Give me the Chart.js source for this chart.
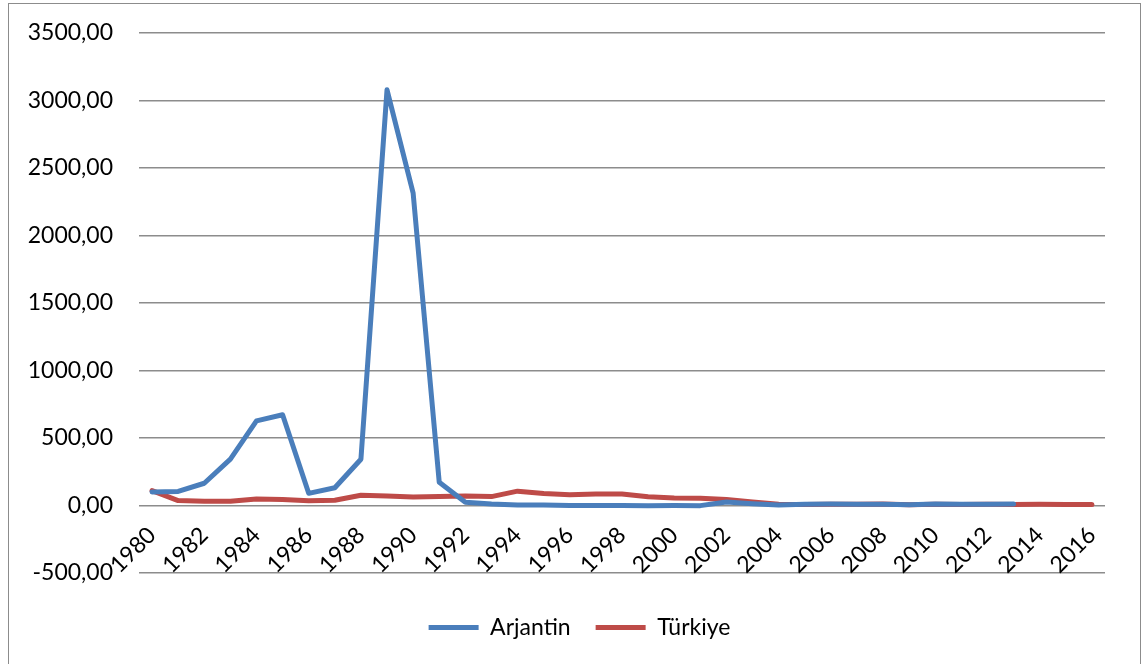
<!DOCTYPE html>
<html>
<head>
<meta charset="utf-8">
<script src="https://cdn.jsdelivr.net/npm/chart.js@4/dist/chart.umd.min.js"></script>
<style>
  html, body { margin: 0; padding: 0; background: #fff; overflow: hidden; }
  #wrap { position: absolute; left: 0; top: 0; width: 1143px; height: 664px; }
  #frame { position: absolute; left: 8px; top: 3px; width: 1131px; height: 700px; border: 1.5px solid #8c8c8c; }
</style>
</head>
<body>
<div id="frame"></div>
<div id="wrap"><canvas id="chart"></canvas></div>
<script>
const years = [];
for (let y = 1980; y <= 2016; y++) years.push(String(y));

// Arjantin stops at 2013
const arjantin = [100.8, 104.5, 164.8, 343.8, 626.7, 672.2, 90.1, 131.3, 343.0, 3079.5,
    2314.0, 171.7, 24.9, 10.6, 4.2, 3.4, 0.2, 0.5, 0.9, -1.2,
    -0.9, -1.1, 25.9, 13.4, 4.4, 9.6, 10.9, 8.8, 8.6, 6.3,
    10.5, 9.8, 10.0, 10.6, null, null, null];

const turkiye = [110.2, 36.6, 30.8, 31.4, 48.4, 45.0, 34.6, 38.9, 75.4, 69.6,
    63.6, 66.0, 70.1, 66.1, 106.3, 88.1, 80.3, 85.7, 84.6, 64.9,
    54.9, 54.4, 45.0, 25.3, 8.6, 8.2, 9.6, 8.8, 10.4, 6.3,
    8.6, 6.5, 8.9, 7.5, 8.9, 7.7, 7.8];

const yMin = -500, yMax = 3500, yStep = 500;

Chart.defaults.font.family = "Lato, 'Noto Sans', sans-serif";
Chart.defaults.font.size = 23;
Chart.defaults.color = '#000';

function fmt(v) {
    return v.toFixed(2).replace('.', ',');
}

// legend sits a bit right of the full width centre, like the original
const legendShift = {
    id: 'legendShift',
    afterLayout(chart) {
        chart.legend.left += 27;
        chart.legend.right += 27;
    }
};

new Chart(document.getElementById('chart'), {
    type: 'line',
    data: {
        labels: years,
        datasets: [
            {
                label: 'Arjantin',
                data: arjantin,
                borderColor: '#4a7ebb',
                backgroundColor: '#4a7ebb',
                borderWidth: 5,
                borderJoinStyle: 'round',
                borderCapStyle: 'round',
                pointRadius: 0,
                tension: 0
            },
            {
                label: 'Türkiye',
                data: turkiye,
                borderColor: '#be4b48',
                backgroundColor: '#be4b48',
                borderWidth: 5,
                borderJoinStyle: 'round',
                borderCapStyle: 'round',
                pointRadius: 0,
                tension: 0
            }
        ]
    },
    options: {
        responsive: true,
        maintainAspectRatio: false,
        animation: false,
        layout: { padding: { left: 0, right: 38, top: 33, bottom: 15 } },
        plugins: {
            tooltip: { enabled: false },
            legend: {
                position: 'bottom',
                title: { display: true, text: '', font: { size: 10 }, padding: { top: 6, bottom: 0 } },
                labels: {
                    usePointStyle: true,
                    pointStyle: 'line',
                    pointStyleWidth: 50,
                    padding: 25,
                    color: '#000'
                }
            }
        },
        scales: {
            x: {
                position: { y: 0 },
                offset: true,
                grid: { display: false },
                border: { display: false },
                ticks: {
                    autoSkip: false,
                    minRotation: 45,
                    maxRotation: 45,
                    padding: 8,
                    callback: function (val, i) { return i % 2 === 0 ? years[i] : ''; }
                }
            },
            y: {
                min: yMin,
                max: yMax,
                afterFit: function (scale) {
                    scale.width = 139;
                    scale.paddingTop = 0;
                    scale.paddingBottom = 0;
                },
                grid: { color: '#8c8c8c', lineWidth: 1.5, drawTicks: false },
                border: { display: false },
                ticks: {
                    stepSize: yStep,
                    padding: 26,
                    callback: function (v) { return fmt(v); }
                }
            }
        }
    },
    plugins: [legendShift]
});
</script>
</body>
</html>
